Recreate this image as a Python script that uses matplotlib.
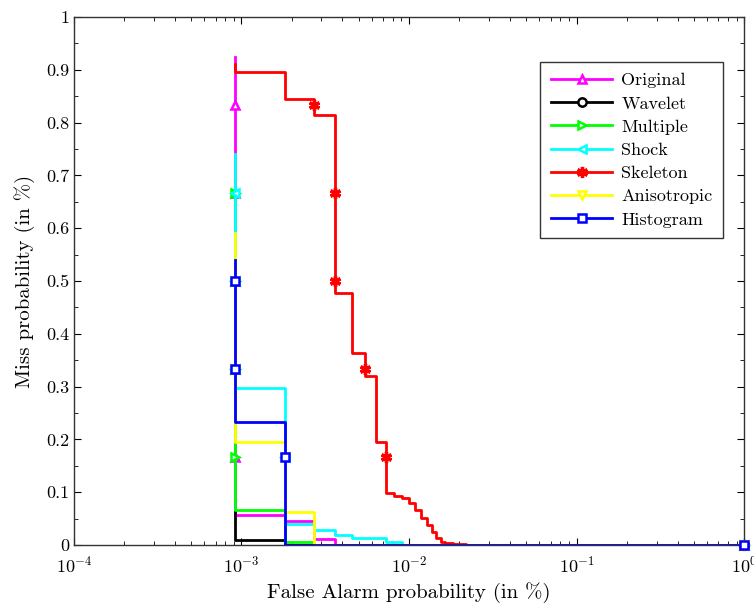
import matplotlib
matplotlib.use('Agg')
import matplotlib.pyplot as plt
from matplotlib.lines import Line2D
from matplotlib.ticker import LogLocator, MultipleLocator, FuncFormatter, NullFormatter

plt.rcParams['font.family'] = 'cmr10'
plt.rcParams['mathtext.fontset'] = 'cm'
plt.rcParams['axes.unicode_minus'] = False

# false alarm steps are k / n_trials
n_trials = 1100

names = ['Original', 'Wavelet', 'Multiple', 'Shock', 'Skeleton', 'Anisotropic', 'Histogram']
colors = ['#ff00ff', '#000000', '#00ff00', '#00ffff', '#ff0000', '#ffff00', '#0000ff']
markers = ['^', 'o', '>', '<', (6, 2, 0), 'v', 's']

# first value = top of the vertical at the first step, then miss prob after step k = 1, 2, ...
original = [0.925, 0.057, 0.046, 0.011, 0.0]
wavelet = [0.062, 0.010, 0.0]
multiple = [0.68, 0.067, 0.005, 0.0]
shock = [0.74, 0.297, 0.040, 0.028, 0.020, 0.013, 0.013, 0.013, 0.005, 0.005, 0.0]
skeleton = [0.91, 0.895, 0.845, 0.814, 0.477, 0.364, 0.320, 0.195, 0.098, 0.093, 0.090,
            0.080, 0.066, 0.051, 0.038, 0.025, 0.013, 0.006, 0.004, 0.004, 0.003, 0.003,
            0.002, 0.002, 0.001, 0.0]
anisotropic = [0.59, 0.195, 0.063, 0.0]
histogram = [0.54, 0.233, 0.0]

curves = [original, wavelet, multiple, shock, skeleton, anisotropic, histogram]
marker_levels = [5 / 6, 4 / 6, 3 / 6, 2 / 6, 1 / 6]

fig = plt.figure(figsize=(7.54, 6.05), dpi=100)
ax = fig.add_axes([0.098, 0.099, 0.889, 0.873])

for i, vals in enumerate(curves):
    xs = [1 / n_trials] + [k / n_trials for k in range(1, len(vals))] + [1.0]
    ys = list(vals) + [vals[-1]]
    z = 2 + i * 0.1
    ax.step(xs, ys, where='post', color=colors[i], lw=2, zorder=z)

    mx, my = [], []
    for lev in marker_levels:
        for j in range(1, len(ys)):
            if ys[j - 1] >= lev > ys[j]:
                mx.append(xs[j])
                my.append(lev)
                break
    mx.append(xs[-1])
    my.append(ys[-1])
    red = i == 4
    ax.plot(mx, my, ls='none', marker=markers[i], color=colors[i],
            mfc=colors[i] if red else 'w', ms=8 if red else 6, mew=2.4 if red else 1.8,
            zorder=z + 0.05, clip_on=False)

ax.set_xscale('log')
ax.set_xlim(1e-4, 1)
ax.set_ylim(0, 1)
ax.xaxis.set_major_locator(LogLocator(base=10, numticks=10))
ax.xaxis.set_minor_locator(LogLocator(base=10, subs=range(2, 10), numticks=20))
ax.xaxis.set_minor_formatter(NullFormatter())
ax.yaxis.set_major_locator(MultipleLocator(0.1))
ax.yaxis.set_minor_locator(MultipleLocator(0.05))
ax.yaxis.set_major_formatter(FuncFormatter(lambda v, p: f'{v:g}'))
ax.tick_params(which='both', direction='in', top=True, right=True, labelsize=13)
ax.tick_params(which='major', length=5, width=0.8)
ax.tick_params(which='minor', length=3, width=0.6)
ax.tick_params(axis='x', pad=7)
for s in ax.spines.values():
    s.set_linewidth(1.0)
    s.set_color('#333333')

ax.set_xlabel('False Alarm probability (in %)', fontsize=15, labelpad=5)
ax.set_ylabel('Miss probability (in %)', fontsize=15, labelpad=8)

handles = [Line2D([], [], color=c, lw=2, marker=m,
                  ms=8 if k == 4 else 6, mew=2.4 if k == 4 else 1.8,
                  mfc=c if k == 4 else 'w') for k, (c, m) in enumerate(zip(colors, markers))]
leg = ax.legend(handles, names, loc='upper right', bbox_to_anchor=(0.969, 0.915),
                borderaxespad=0, fontsize=13, fancybox=False, framealpha=1,
                edgecolor='#333333', handlelength=3.4, labelspacing=0.42, borderpad=0.6,
                handletextpad=0.5)
leg.get_frame().set_linewidth(1.0)

fig.savefig('out.png', dpi=100)
